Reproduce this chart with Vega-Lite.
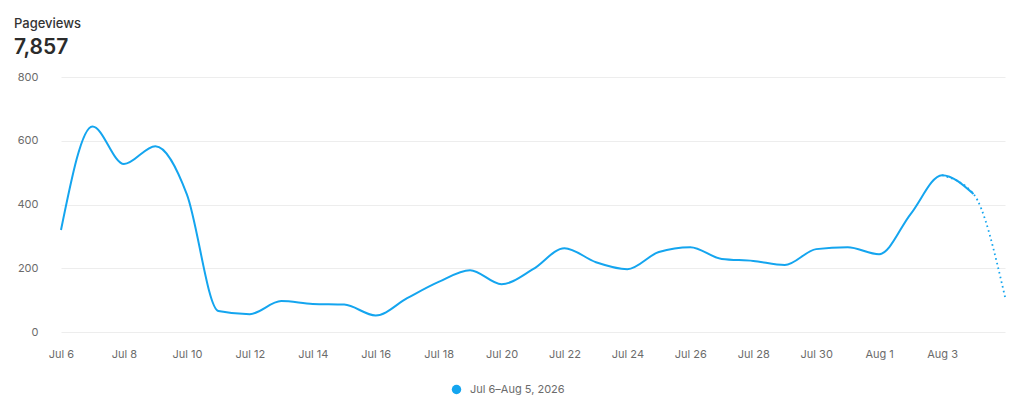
{
  "$schema": "https://vega.github.io/schema/vega-lite/v6.json",
  "width": 944,
  "height": 255,
  "autosize": {"type": "none"},
  "padding": {"left": 61, "top": 77, "right": 15, "bottom": 81},
  "background": "white",
  "title": {
    "text": "Pageviews",
    "subtitle": "7,857",
    "anchor": "start",
    "frame": "group",
    "dx": -47,
    "offset": 13,
    "font": "Inter",
    "fontSize": 13,
    "fontWeight": 500,
    "color": "#333333",
    "subtitleFont": "Inter",
    "subtitleFontSize": 21,
    "subtitleFontWeight": 600,
    "subtitleColor": "#2b2b2b",
    "subtitlePadding": 6
  },
  "data": {
    "values": [
      {"date": "2026-07-06", "views": 320},
      {"date": "2026-07-07", "views": 645},
      {"date": "2026-07-08", "views": 527},
      {"date": "2026-07-09", "views": 583},
      {"date": "2026-07-10", "views": 432},
      {"date": "2026-07-11", "views": 66},
      {"date": "2026-07-12", "views": 56},
      {"date": "2026-07-13", "views": 97},
      {"date": "2026-07-14", "views": 88},
      {"date": "2026-07-15", "views": 86},
      {"date": "2026-07-16", "views": 52},
      {"date": "2026-07-17", "views": 106},
      {"date": "2026-07-18", "views": 157},
      {"date": "2026-07-19", "views": 194},
      {"date": "2026-07-20", "views": 150},
      {"date": "2026-07-21", "views": 197},
      {"date": "2026-07-22", "views": 263},
      {"date": "2026-07-23", "views": 219},
      {"date": "2026-07-24", "views": 197},
      {"date": "2026-07-25", "views": 251},
      {"date": "2026-07-26", "views": 266},
      {"date": "2026-07-27", "views": 229},
      {"date": "2026-07-28", "views": 223},
      {"date": "2026-07-29", "views": 210},
      {"date": "2026-07-30", "views": 260},
      {"date": "2026-07-31", "views": 266},
      {"date": "2026-08-01", "views": 244},
      {"date": "2026-08-02", "views": 370},
      {"date": "2026-08-03", "views": 492},
      {"date": "2026-08-04", "views": 433},
      {"date": "2026-08-05", "views": 110}
    ]
  },
  "encoding": {
    "x": {
      "field": "date",
      "type": "temporal",
      "timeUnit": "utcyearmonthdate",
      "title": null,
      "scale": {
        "domain": [
          {"year": 2026, "month": 7, "date": 6, "utc": true},
          {"year": 2026, "month": 8, "date": 5, "utc": true}
        ],
        "nice": false
      },
      "axis": {
        "format": "%b %-d",
        "values": [
          {"year": 2026, "month": 7, "date": 6, "utc": true},
          {"year": 2026, "month": 7, "date": 8, "utc": true},
          {"year": 2026, "month": 7, "date": 10, "utc": true},
          {"year": 2026, "month": 7, "date": 12, "utc": true},
          {"year": 2026, "month": 7, "date": 14, "utc": true},
          {"year": 2026, "month": 7, "date": 16, "utc": true},
          {"year": 2026, "month": 7, "date": 18, "utc": true},
          {"year": 2026, "month": 7, "date": 20, "utc": true},
          {"year": 2026, "month": 7, "date": 22, "utc": true},
          {"year": 2026, "month": 7, "date": 24, "utc": true},
          {"year": 2026, "month": 7, "date": 26, "utc": true},
          {"year": 2026, "month": 7, "date": 28, "utc": true},
          {"year": 2026, "month": 7, "date": 30, "utc": true},
          {"year": 2026, "month": 8, "date": 1, "utc": true},
          {"year": 2026, "month": 8, "date": 3, "utc": true}
        ],
        "grid": false,
        "domain": false,
        "ticks": false,
        "labelPadding": 16,
        "labelFlush": false,
        "labelOverlap": false
      }
    },
    "y": {
      "field": "views",
      "type": "quantitative",
      "title": null,
      "scale": {"domain": [0, 800], "nice": false},
      "axis": {
        "values": [0, 200, 400, 600, 800],
        "domain": false,
        "ticks": false,
        "labelPadding": 23,
        "gridColor": "#ededed",
        "gridWidth": 1
      }
    },
    "color": {
      "datum": "Jul 6–Aug 5, 2026",
      "type": "nominal",
      "scale": {"range": ["#14a5ef"]},
      "legend": {
        "title": null,
        "orient": "none",
        "legendX": 390,
        "legendY": 307,
        "direction": "horizontal",
        "symbolType": "circle",
        "symbolSize": 90,
        "symbolStrokeWidth": 0,
        "symbolFillColor": "#14a5ef",
        "labelOffset": 8
      }
    }
  },
  "layer": [
    {
      "transform": [{"filter": "time(datum.date) >= utc(2026, 7, 3)"}],
      "mark": {"type": "line", "interpolate": "monotone", "strokeWidth": 1.8, "strokeDash": [1.6, 3.2]}
    },
    {
      "transform": [{"filter": "time(datum.date) <= utc(2026, 7, 4)"}],
      "mark": {"type": "line", "interpolate": "monotone", "strokeWidth": 2}
    }
  ],
  "config": {
    "font": "Inter",
    "view": {"stroke": null},
    "axis": {
      "labelFont": "Inter",
      "labelFontSize": 11,
      "labelColor": "#6b6b6b"
    },
    "legend": {
      "labelFont": "Inter",
      "labelFontSize": 11,
      "labelColor": "#6b6b6b"
    }
  }
}
